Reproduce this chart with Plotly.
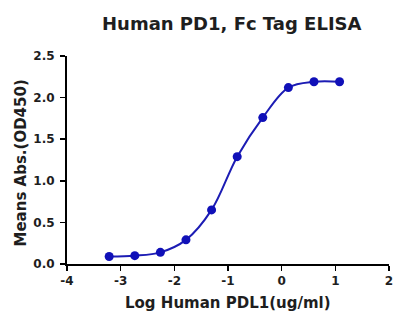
import plotly.graph_objects as go

log_conc = [-3.214, -2.737, -2.260, -1.783, -1.306, -0.829, -0.352, 0.125, 0.602, 1.079]
od450 = [0.09, 0.10, 0.14, 0.29, 0.65, 1.29, 1.76, 2.12, 2.19, 2.19]
x_ticks = [-4, -3, -2, -1, 0, 1, 2]
y_ticks = [0.0, 0.5, 1.0, 1.5, 2.0, 2.5]
y_tick_text = ["0.0", "0.5", "1.0", "1.5", "2.0", "2.5"]

FONT = "DejaVu Sans"
TXT = "#1e1e1e"
BLUE = "#1c1cb4"

W, H = 396, 311
L, R, T, B = 67, 7, 56, 47
PW, PH = W - L - R, H - T - B

fig = go.Figure()
fig.add_trace(go.Scatter(
    x=log_conc, y=od450, mode="lines+markers",
    line=dict(color=BLUE, width=2, shape="spline", smoothing=1.0),
    marker=dict(color="#1010b8", size=9),
    showlegend=False, cliponaxis=False,
))

def px_x(p):
    return (p - L) / PW

def px_y(p):
    return (H - B - p) / PH

fig.update_layout(
    width=W, height=H,
    margin=dict(l=L, r=R, t=T, b=B, autoexpand=False),
    paper_bgcolor="white", plot_bgcolor="white",
    font=dict(family=FONT, color=TXT),
    annotations=[
        dict(text="Human PD1, Fc Tag ELISA", xref="paper", yref="paper",
             x=px_x(232), y=px_y(23.5), xanchor="center", yanchor="middle", showarrow=False,
             font=dict(size=18, family=FONT, color=TXT, weight="bold")),
        dict(text="Log Human PDL1(ug/ml)", xref="paper", yref="paper",
             x=px_x(228), y=px_y(302.5), xanchor="center", yanchor="middle", showarrow=False,
             font=dict(size=15, family=FONT, color=TXT, weight="bold")),
        dict(text="Means Abs.(OD450)", xref="paper", yref="paper", textangle=-90,
             x=px_x(20.5), y=px_y(163), xanchor="center", yanchor="middle", showarrow=False,
             font=dict(size=15, family=FONT, color=TXT, weight="bold")),
    ],
)
fig.update_xaxes(
    range=[-4, 2], tickvals=x_ticks, ticktext=[str(v) for v in x_ticks], automargin=False,
    showgrid=False, zeroline=False, showline=True, linecolor="black", linewidth=2,
    ticks="outside", ticklen=5, tickwidth=1.5, tickcolor="black",
    tickfont=dict(size=12, family=FONT, color=TXT, weight="bold"),
)
fig.update_yaxes(
    range=[0, 2.5], tickvals=y_ticks, ticktext=y_tick_text, automargin=False,
    showgrid=False, zeroline=False, showline=True, linecolor="black", linewidth=2,
    ticks="outside", ticklen=5, tickwidth=1.5, tickcolor="black",
    tickfont=dict(size=12, family=FONT, color=TXT, weight="bold"), ticklabelstandoff=3,
)

# remove the browser's default 8px body margin so the figure fills the window
fig.write_html(
    "out.html",
    config={"displayModeBar": False, "staticPlot": True},
    post_script="document.body.style.margin='0';document.body.style.overflow='hidden';",
)
